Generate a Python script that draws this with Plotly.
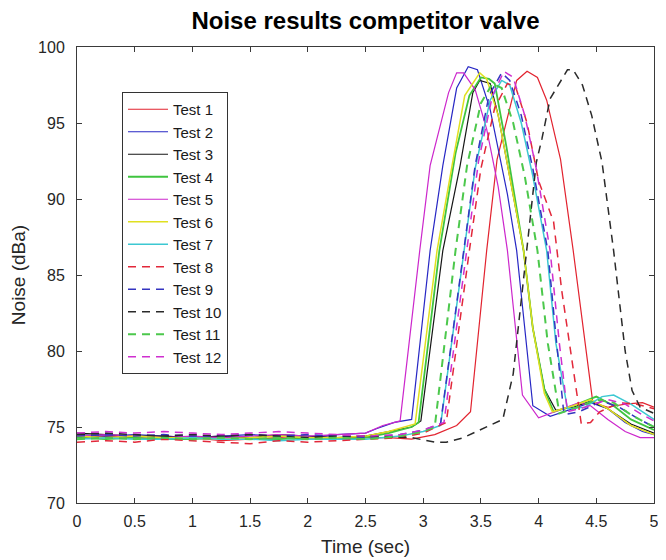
import plotly.graph_objects as go

# ---- data (time in s, noise in dBa) ----
base_t = [0, 0.25, 0.5, 0.75, 1.0, 1.25, 1.5, 1.75, 2.0, 2.25]

t1 = base_t + [2.5, 2.7, 2.9, 3.1, 3.29, 3.41, 3.55, 3.64, 3.81, 3.9, 3.99, 4.07, 4.19, 4.3, 4.47, 4.6, 4.75, 4.9, 5.0]
y1 = [74.3, 74.4, 74.3, 74.2, 74.3, 74.1, 74.2, 74.3, 74.2, 74.3,
      74.3, 74.3, 74.2, 74.5, 75.1, 76.0, 86.6, 92.6, 97.8, 98.4, 98.0, 96.5, 92.6, 86.6, 76.6, 76.3, 76.5, 76.6, 76.3]

t2 = base_t + [2.5, 2.6, 2.75, 2.9, 3.06, 3.17, 3.29, 3.39, 3.47, 3.58, 3.65, 3.73, 3.81, 3.88, 3.95, 4.1, 4.25, 4.45, 4.6, 4.75, 4.9, 5.0]
y2 = [74.5, 74.4, 74.5, 74.4, 74.3, 74.4, 74.5, 74.4, 74.3, 74.5,
      74.6, 74.9, 75.3, 75.5, 86.6, 92.2, 97.3, 98.7, 98.5, 95.9, 93.2, 90.3, 86.6, 81.5, 76.4, 75.7, 76.1, 76.6, 76.2, 75.3, 74.7, 74.5]

t3 = base_t + [2.5, 2.7, 2.9, 2.98, 3.17, 3.32, 3.43, 3.49, 3.58, 3.65, 3.75, 3.87, 3.95, 4.05, 4.15, 4.3, 4.45, 4.6, 4.8, 5.0]
y3 = [74.6, 74.5, 74.4, 74.4, 74.3, 74.4, 74.3, 74.5, 74.4, 74.3,
      74.4, 74.7, 75.0, 75.4, 86.6, 92.2, 97.0, 97.8, 97.6, 95.5, 91.5, 86.6, 81.5, 77.5, 76.1, 76.3, 76.7, 76.2, 75.2, 74.6]

t4 = base_t + [2.5, 2.7, 2.9, 2.96, 3.14, 3.28, 3.4, 3.5, 3.57, 3.62, 3.72, 3.87, 3.95, 4.05, 4.13, 4.3, 4.5, 4.65, 4.8, 5.0]
y4 = [74.3, 74.2, 74.3, 74.2, 74.2, 74.3, 74.2, 74.2, 74.3, 74.2,
      74.3, 74.6, 75.0, 75.3, 86.6, 93.0, 96.8, 98.0, 97.9, 97.6, 93.5, 86.6, 81.5, 77.5, 76.0, 76.4, 77.0, 76.4, 75.5, 74.8]

t5 = base_t + [2.5, 2.65, 2.8, 2.97, 3.06, 3.22, 3.29, 3.35, 3.45, 3.55, 3.65, 3.73, 3.8, 3.86, 4.0, 4.1, 4.2, 4.35, 4.45, 4.6, 4.75, 4.88, 5.0]
y5 = [74.4, 74.5, 74.4, 74.3, 74.4, 74.3, 74.4, 74.5, 74.4, 74.5,
      74.6, 75.1, 75.4, 86.6, 92.2, 97.0, 98.3, 98.3, 97.2, 94.6, 90.8, 86.6, 81.5, 77.1, 75.6, 75.9, 76.2, 76.6, 76.4, 75.5, 74.7, 74.3, 74.3]

t6 = base_t + [2.5, 2.7, 2.93, 3.12, 3.25, 3.36, 3.49, 3.55, 3.65, 3.75, 3.87, 3.95, 4.05, 4.12, 4.3, 4.45, 4.6, 4.8, 5.0]
y6 = [74.4, 74.3, 74.4, 74.3, 74.3, 74.2, 74.3, 74.4, 74.3, 74.3,
      74.4, 74.7, 75.2, 86.6, 92.2, 96.8, 98.3, 97.9, 95.5, 91.5, 86.6, 81.5, 77.2, 76.0, 76.4, 76.8, 76.2, 75.1, 74.5]

t7 = base_t + [2.5, 2.8, 3.0, 3.15, 3.35, 3.45, 3.58, 3.68, 3.75, 3.85, 3.95, 4.07, 4.15, 4.25, 4.4, 4.55, 4.65, 4.8, 5.0]
y7 = [74.2, 74.3, 74.2, 74.2, 74.3, 74.2, 74.2, 74.1, 74.2, 74.2,
      74.2, 74.4, 74.7, 75.1, 86.6, 92.0, 96.5, 97.8, 97.5, 95.0, 91.5, 86.6, 80.5, 76.2, 76.3, 77.0, 77.1, 76.5, 75.5]

t8 = base_t + [2.5, 2.8, 3.0, 3.2, 3.4, 3.5, 3.62, 3.73, 3.8, 3.9, 4.0, 4.13, 4.2, 4.37, 4.45, 4.53, 4.7, 4.85, 5.0]
y8 = [74.0, 74.1, 74.0, 74.2, 74.1, 74.0, 73.9, 74.1, 74.0, 74.1,
      74.2, 74.3, 74.6, 75.3, 86.6, 92.0, 96.0, 97.6, 97.4, 95.0, 91.2, 88.5, 84.0, 75.2, 75.3, 76.0, 76.6, 76.5, 76.2]

t9 = base_t + [2.5, 2.8, 3.0, 3.15, 3.35, 3.45, 3.57, 3.68, 3.75, 3.85, 3.95, 4.08, 4.15, 4.22, 4.35, 4.55, 4.7, 4.85, 5.0]
y9 = [74.4, 74.5, 74.4, 74.5, 74.4, 74.4, 74.5, 74.4, 74.5, 74.4,
      74.3, 74.5, 74.8, 75.2, 86.6, 92.2, 96.8, 98.3, 97.8, 95.5, 92.0, 86.6, 81.0, 75.8, 76.0, 76.7, 76.3, 75.6, 75.0]

t10 = base_t + [2.5, 2.9, 3.1, 3.2, 3.35, 3.49, 3.69, 3.78, 3.82, 3.9, 3.98, 4.03, 4.1, 4.25, 4.3, 4.38, 4.46, 4.55, 4.65, 4.75, 4.81, 4.88, 5.0]
y10 = [74.5, 74.6, 74.5, 74.4, 74.5, 74.4, 74.5, 74.4, 74.3, 74.4,
       74.4, 74.3, 74.0, 74.0, 74.3, 74.8, 75.5, 78.5, 81.2, 86.6, 92.4, 94.0, 96.6, 98.5, 98.5, 97.5, 95.5, 92.4, 86.6, 80.0, 77.4, 76.3, 75.9]

t11 = base_t + [2.5, 2.8, 3.0, 3.1, 3.28, 3.38, 3.5, 3.6, 3.68, 3.78, 3.88, 3.99, 4.08, 4.18, 4.3, 4.5, 4.65, 4.8, 5.0]
y11 = [74.2, 74.3, 74.2, 74.3, 74.2, 74.3, 74.2, 74.3, 74.2, 74.3,
       74.2, 74.4, 74.7, 75.0, 86.6, 92.2, 96.3, 97.6, 97.3, 95.0, 91.5, 86.6, 80.5, 75.9, 76.2, 76.8, 76.6, 75.8, 75.0]

t12 = base_t + [2.5, 2.8, 3.0, 3.18, 3.38, 3.48, 3.6, 3.7, 3.78, 3.88, 3.98, 4.1, 4.18, 4.25, 4.4, 4.6, 4.75, 4.9, 5.0]
y12 = [74.6, 74.7, 74.6, 74.7, 74.6, 74.5, 74.6, 74.7, 74.6, 74.5,
       74.4, 74.5, 74.8, 75.3, 86.6, 92.5, 96.8, 98.4, 98.0, 95.5, 92.0, 86.6, 80.5, 76.0, 76.3, 76.8, 76.5, 75.8, 75.4]

names = ["Test 1", "Test 2", "Test 3", "Test 4", "Test 5", "Test 6",
         "Test 7", "Test 8", "Test 9", "Test 10", "Test 11", "Test 12"]
times = [t1, t2, t3, t4, t5, t6, t7, t8, t9, t10, t11, t12]
values = [y1, y2, y3, y4, y5, y6, y7, y8, y9, y10, y11, y12]

colors = ["#e2232f", "#2727c4", "#161616", "#3fc43f", "#cc27cc", "#e0e020",
          "#3cc8d2", "#e2283a", "#3434c0", "#2a2a2a", "#4cc84c", "#cf2fcf"]
dashes = ["solid"] * 7 + ["8px,6px"] * 5
widths = [1.2, 1.2, 1.2, 1.8, 1.2, 1.5, 1.5, 1.5, 1.5, 1.5, 2.0, 1.5]

FONT = "Liberation Sans, Arial, sans-serif"

fig = go.Figure()
for i in range(12):
    fig.add_trace(go.Scatter(
        x=times[i], y=values[i], mode="lines", name=names[i],
        legendgroup=names[i],
        line=dict(color=colors[i], width=widths[i], dash=dashes[i]),
    ))

axis_common = dict(
    showgrid=False, zeroline=False, showline=True, linecolor="#3a3a3a",
    linewidth=1, mirror="ticks", ticks="inside", ticklen=5, automargin=False,
    tickcolor="#3a3a3a", tickfont=dict(family=FONT, size=16, color="#262626"),
)

# page body has an 8px default margin: figure is offset by 8px in x and y
W, H = 658, 552
L, R, T, B = 69, 12, 39, 57

fig.update_layout(
    width=W, height=H,
    margin=dict(l=L, r=R, t=T, b=B),
    paper_bgcolor="white", plot_bgcolor="white",
    title=dict(text="<b>Noise results competitor valve</b>",
               x=(L + (W - R)) / 2 / W, xanchor="center",
               y=1 - 13 / H, yanchor="middle",
               font=dict(family=FONT, size=24, color="black")),
    xaxis=dict(range=[0, 5], tickvals=[0, 0.5, 1, 1.5, 2, 2.5, 3, 3.5, 4, 4.5, 5],
               ticktext=["0", "0.5", "1", "1.5", "2", "2.5", "3", "3.5", "4", "4.5", "5"],
               ticklabelstandoff=4,
               title=dict(text="Time (sec)", standoff=10,
                          font=dict(family=FONT, size=19, color="#262626")),
               **axis_common),
    yaxis=dict(range=[70, 100], tickvals=[70, 75, 80, 85, 90, 95, 100],
               ticklabelstandoff=8,
               title=dict(text="Noise (dBa)", standoff=8,
                          font=dict(family=FONT, size=19, color="#262626")),
               **axis_common),
    legend=dict(x=(122 - 77) / (W - L - R), y=(503 - 92) / (H - T - B),
                xanchor="left", yanchor="top", itemwidth=40,
                bgcolor="white", bordercolor="#333333", borderwidth=1,
                tracegroupgap=0, traceorder="grouped",
                font=dict(family=FONT, size=15, color="#1a1a1a")),
    showlegend=True,
)

fig.write_html("out.html")
